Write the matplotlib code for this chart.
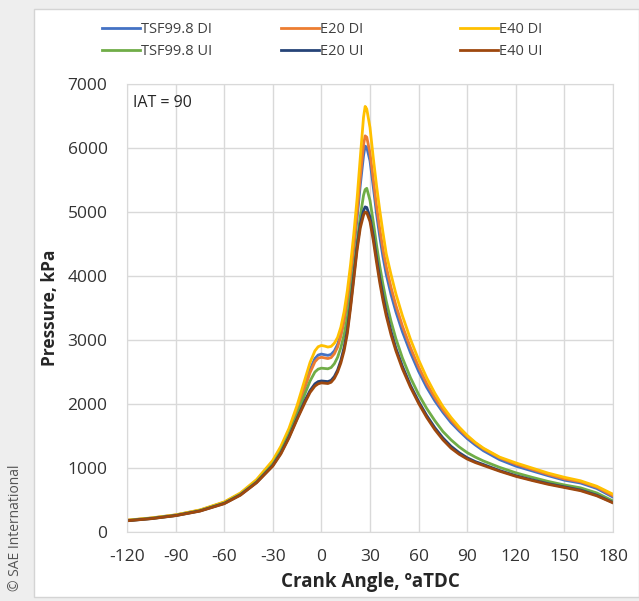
"""缸压曲线 IAT = 90"""
import matplotlib.pyplot as plt
from matplotlib.patches import Rectangle

# 曲轴转角 (deg aTDC)
crank_angle = [-120, -105, -90, -75, -60, -50, -40, -30, -25, -20,
               -15, -10, -7, -4, -2, 0, 2, 4, 6, 8,
               10, 12, 14, 16, 18, 20, 22, 24, 26, 27,
               28, 30, 32, 34, 36, 38, 40, 43, 46, 50,
               55, 60, 65, 70, 75, 80, 85, 90, 95, 100,
               110, 120, 130, 140, 150, 160, 170, 180]

# 缸压 (kPa)
tsf_di = [182, 217, 265, 340, 463, 600, 805, 1095, 1310, 1580,
          1920, 2310, 2540, 2710, 2765, 2780, 2770, 2760, 2775, 2830,
          2930, 3090, 3320, 3620, 3990, 4420, 4900, 5420, 5880, 6030,
          6010, 5800, 5400, 4980, 4620, 4300, 4030, 3710, 3440, 3130,
          2800, 2510, 2260, 2050, 1870, 1710, 1580, 1460, 1360, 1270,
          1130, 1030, 955, 880, 810, 765, 680, 545]
e20_di = [182, 217, 265, 339, 461, 597, 800, 1085, 1295, 1560,
          1890, 2270, 2490, 2660, 2715, 2730, 2720, 2710, 2725, 2785,
          2890, 3060, 3300, 3620, 4020, 4480, 4990, 5550, 6050, 6190,
          6170, 5920, 5520, 5100, 4740, 4420, 4150, 3820, 3540, 3220,
          2880, 2580, 2320, 2100, 1910, 1750, 1610, 1490, 1390, 1300,
          1160, 1060, 980, 900, 830, 785, 700, 565]
e40_di = [185, 220, 268, 345, 470, 610, 820, 1120, 1340, 1620,
          1980, 2400, 2650, 2830, 2895, 2915, 2905, 2890, 2900, 2950,
          3040, 3200, 3440, 3770, 4180, 4660, 5200, 5850, 6480, 6650,
          6610, 6320, 5850, 5420, 5030, 4680, 4350, 4020, 3720, 3380,
          3010, 2690, 2410, 2170, 1960, 1790, 1640, 1510, 1400, 1310,
          1170, 1080, 1000, 920, 855, 800, 715, 590]
tsf_ui = [178, 212, 259, 333, 452, 588, 785, 1060, 1265, 1525,
          1830, 2170, 2360, 2500, 2545, 2560, 2555, 2550, 2570, 2630,
          2730, 2880, 3080, 3350, 3700, 4100, 4520, 4930, 5260, 5350,
          5370, 5180, 4850, 4490, 4160, 3870, 3610, 3290, 3020, 2720,
          2410, 2150, 1930, 1740, 1570, 1440, 1330, 1240, 1170, 1110,
          1010, 925, 855, 790, 735, 690, 610, 485]
e20_ui = [176, 210, 257, 329, 446, 580, 775, 1040, 1235, 1485,
          1775, 2060, 2210, 2315, 2350, 2360, 2355, 2350, 2370, 2430,
          2530, 2680, 2880, 3150, 3550, 4000, 4450, 4810, 5020, 5080,
          5070, 4920, 4630, 4290, 3970, 3690, 3440, 3130, 2870, 2590,
          2290, 2040, 1820, 1630, 1470, 1340, 1240, 1160, 1100, 1055,
          960, 880, 815, 755, 705, 655, 575, 460]
e40_ui = [175, 208, 255, 326, 442, 575, 770, 1030, 1220, 1470,
          1760, 2030, 2180, 2280, 2315, 2330, 2325, 2320, 2340, 2400,
          2500, 2640, 2830, 3100, 3500, 3950, 4400, 4750, 4950, 5000,
          4990, 4850, 4560, 4220, 3900, 3620, 3380, 3080, 2830, 2550,
          2260, 2010, 1790, 1600, 1440, 1310, 1215, 1140, 1085, 1040,
          950, 870, 805, 745, 695, 645, 565, 455]

labels = ["TSF99.8 DI", "E20 DI", "E40 DI", "TSF99.8 UI", "E20 UI", "E40 UI"]
colors = ["#4472C4", "#ED7D31", "#FFC000", "#70AD47", "#264478", "#9E480E"]
series = [tsf_di, e20_di, e40_di, tsf_ui, e20_ui, e40_ui]

x_ticks = list(range(-120, 181, 30))
y_ticks = list(range(0, 7001, 1000))

plt.rcParams['font.family'] = ['Open Sans', 'DejaVu Sans']
plt.rcParams['axes.unicode_minus'] = False

fig = plt.figure(figsize=(6.39, 6.01), dpi=100, facecolor="#eeeeee")
# 白色面板
fig.patches.append(Rectangle((34 / 639, 4 / 601), 605 / 639, 588 / 601, transform=fig.transFigure,
                             facecolor="white", edgecolor="#d4d4d4", lw=1, zorder=-5))
fig.text(16 / 639, 1 - 528 / 601, "© SAE International", rotation=90, ha="center", va="center",
         fontsize=10, color="#555555")

ax = fig.add_axes([127 / 639, 1 - 532 / 601, 486 / 639, 448 / 601])
ax.set_facecolor("white")
for y, lab, c in zip(series, labels, colors):
    ax.plot(crank_angle, y, color=c, lw=2, label=lab)

ax.set_xlim(-120, 180)
ax.set_ylim(0, 7000)
ax.set_xticks(x_ticks)
ax.set_yticks(y_ticks)
ax.grid(True, color="#d9d9d9", lw=1)
ax.set_axisbelow(True)
for s in ax.spines.values():
    s.set_color("#d9d9d9")
ax.tick_params(axis="both", length=0, labelsize=12.5, labelcolor="#333333")
ax.tick_params(axis="x", pad=12)
ax.tick_params(axis="y", pad=14)
ax.set_xlabel("Crank Angle, ºaTDC", fontsize=13.5, fontweight="bold", color="#262626", labelpad=5)
ax.set_ylabel("Pressure, kPa", fontsize=12.5, fontweight="bold", color="#262626", labelpad=6)
ax.text(0.012, 0.975, "IAT = 90", transform=ax.transAxes, fontsize=11.5, color="#262626",
        ha="left", va="top")

# 图例：三列等距
handles = ax.get_lines()
col_x = [96 / 639, 275 / 639, 454 / 639]
for i in range(3):
    hs = [handles[i], handles[i + 3]]
    leg = fig.legend(hs, [labels[i], labels[i + 3]], loc="upper left",
                     bbox_to_anchor=(col_x[i], 1 - 16 / 601), frameon=False, fontsize=10.5,
                     handlelength=2.6, handletextpad=0.1, labelspacing=0.5, borderaxespad=0)
    for t in leg.get_texts():
        t.set_color("#404040")

plt.savefig("out.png", dpi=100, facecolor=fig.get_facecolor())
